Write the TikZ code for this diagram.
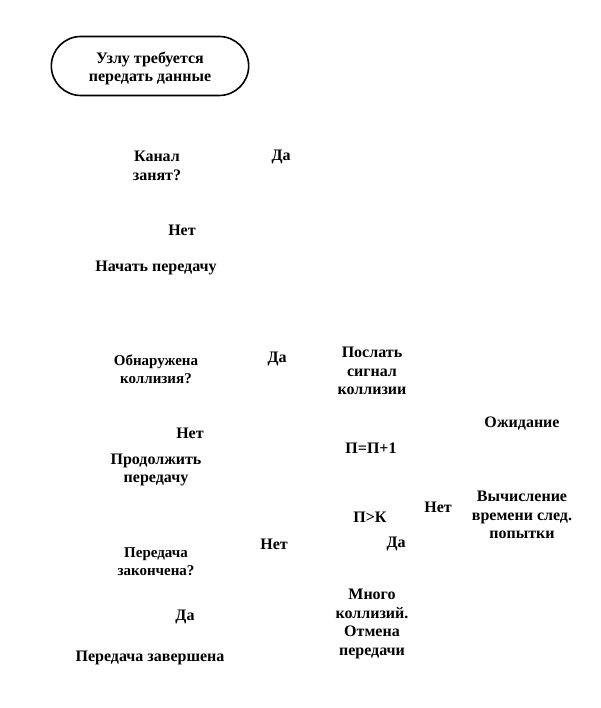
\documentclass[tikz,border=0pt]{standalone}
\usepackage{fontspec}
\setmainfont{Liberation Serif}
\usetikzlibrary{shapes.misc, positioning}

\begin{document}
\begin{tikzpicture}[x=1pt, y=-1pt,
    lbl/.style={font=\fontsize{16}{18.7}\selectfont\bfseries, align=center, inner sep=0pt},
    small/.style={lbl, font=\fontsize{15}{18.3}\selectfont\bfseries},
    term/.style={draw, line width=1.6pt, rounded rectangle, minimum width=204pt, minimum height=59pt}]

    % page frame, 601 x 708
    \useasboundingbox (0,0) rectangle (601,708);

    % === left column ===
    \node[term] (start) at (150,66) {};
    \node[lbl] (startText) at (150,68.5) {Узлу требуется\\передать данные};
    \node[lbl] (busy) at (157,166) {Канал\\занят?};
    \node[lbl] (busyYes) at (281,157) {Да};
    \node[lbl] (busyNo) at (182,230) {Нет};
    \node[lbl] (send) at (156,268) {Начать передачу};
    \node[small] (coll) at (156,369) {Обнаружена\\коллизия?};
    \node[lbl] (collYes) at (277,359) {Да};
    \node[lbl] (collNo) at (190,433) {Нет};
    \node[lbl] (cont) at (156,470) {Продолжить\\передачу};
    \node[small] (done) at (156,562) {Передача\\закончена?};
    \node[lbl] (doneNo) at (274,544) {Нет};
    \node[lbl] (doneYes) at (185,617) {Да};
    \node[lbl] (finish) at (150,658) {Передача завершена};

    % === middle column ===
    \node[lbl] (jam) at (372,371) {Послать\\сигнал\\коллизии};
    \node[lbl] (count) at (371,448) {П=П+1};
    \node[lbl] (limit) at (370,517) {П>К};
    \node[lbl] (limitNo) at (438,507) {Нет};
    \node[lbl] (limitYes) at (396,544) {Да};
    \node[lbl] (abort) at (372,624) {Много\\коллизий.\\Отмена\\передачи};

    % === right column ===
    \node[lbl] (wait) at (522,424) {Ожидание};
    \node[lbl] (backoff) at (522,515) {Вычисление\\времени след.\\попытки};

\end{tikzpicture}
\end{document}
